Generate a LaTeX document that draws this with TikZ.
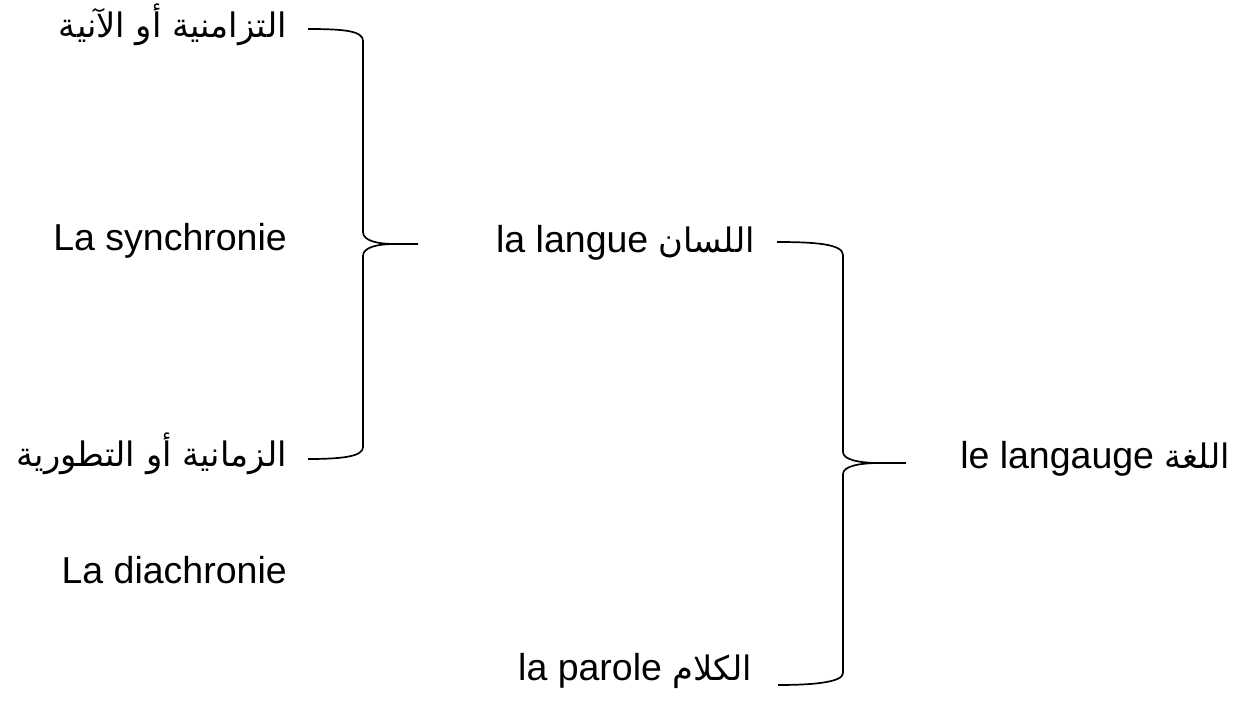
\documentclass[tikz,border=0pt]{standalone}
\usepackage{fontspec}
\setmainfont{Liberation Sans}
\newfontfamily\arabicfont[Script=Arabic,Scale=0.9]{DejaVu Sans}
\TeXXeTstate=1
\begin{document}
\begin{tikzpicture}[x=1pt,y=-1pt,
  lbl/.style={inner sep=0pt, font=\fontsize{37.5}{44}\selectfont},
  brace/.style={line width=1.7pt, line join=round}]
\useasboundingbox (0,0) rectangle (1245,701);
% left column
\node[lbl, anchor=base east] (sa) at (287,38) {\arabicfont\beginR التزامنية أو الآنية\endR};
\node[lbl, anchor=base east] (sl) at (287,250) {La synchronie};
\node[lbl, anchor=base east] (da) at (287,466) {\arabicfont\beginR الزمانية أو التطورية\endR};
\node[lbl, anchor=base east] (dl) at (287,583) {La diachronie};
% middle column
\node[lbl, anchor=base east] (lg) at (755,252) {la langue \arabicfont\beginR اللسان\endR};
\node[lbl, anchor=base east] (pr) at (752,680) {la parole \arabicfont\beginR الكلام\endR};
% right
\node[lbl, anchor=base east] (lang) at (1230,468) {le langauge \arabicfont\beginR اللغة\endR};
% brace coordinates
\coordinate (b1t) at (308,29);
\coordinate (b1m) at (418,244);
\coordinate (b1b) at (308,459);
\coordinate (b2t) at (777,242);
\coordinate (b2m) at (906,463);
\coordinate (b2b) at (778,685);
% left brace
\draw[brace] (b1t) .. controls (345,29) and (363,31) .. (363,41) -- (363,232)
  .. controls (363,241) and (378,244) .. (395,244) -- (b1m);
\draw[brace] (395,244) .. controls (378,244) and (363,247) .. (363,256) -- (363,447)
  .. controls (363,456) and (345,459) .. (b1b);
% right brace
\draw[brace] (b2t) .. controls (815,242) and (843,244) .. (843,255) -- (843,452)
  .. controls (843,460) and (860,463) .. (880,463) -- (b2m);
\draw[brace] (880,463) .. controls (860,463) and (843,466) .. (843,474) -- (843,673)
  .. controls (843,682) and (815,685) .. (b2b);
\end{tikzpicture}
\end{document}
